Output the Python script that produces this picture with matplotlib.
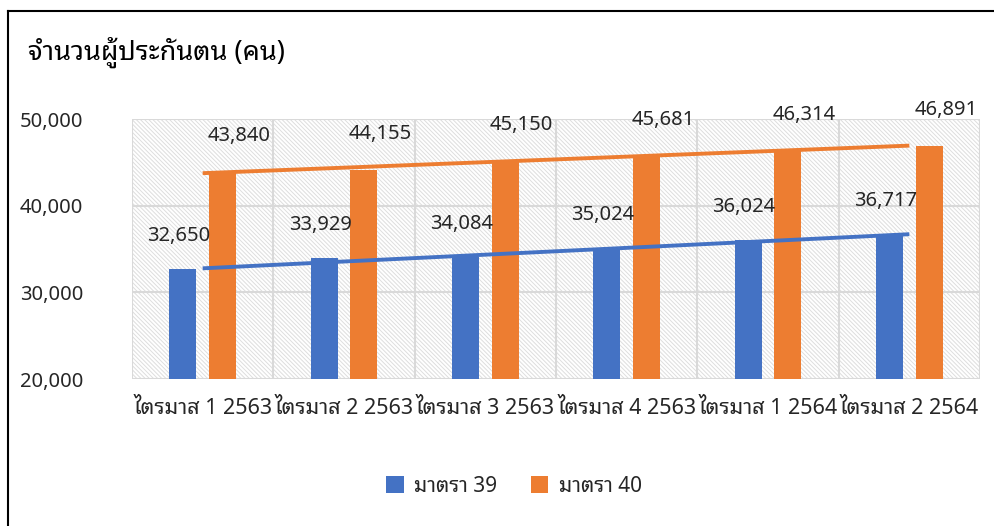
import matplotlib
matplotlib.use("Agg")
import matplotlib.pyplot as plt
from matplotlib import font_manager
from matplotlib.patches import Rectangle
from matplotlib.lines import Line2D
from matplotlib.ticker import FuncFormatter
import numpy as np

quarters = ["ไตรมาส 1 2563", "ไตรมาส 2 2563", "ไตรมาส 3 2563",
            "ไตรมาส 4 2563", "ไตรมาส 1 2564", "ไตรมาส 2 2564"]
sec39 = [32650, 33929, 34084, 35024, 36024, 36717]
sec40 = [43840, 44155, 45150, 45681, 46314, 46891]
series_names = ["มาตรา 39", "มาตรา 40"]

blue = "#4472C4"
orange = "#ED7D31"
grid_gray = "#d9d9d9"
hatch_gray = "#dedede"

# latin text from Noto Sans, thai glyphs fall through to a thai family
installed = {f.name for f in font_manager.fontManager.ttflist}
wanted = ["Noto Sans", "Noto Sans Thai Looped", "Noto Sans Thai", "Sarabun",
          "Anuphan", "DejaVu Sans"]
plt.rcParams["font.family"] = [f for f in wanted if f in installed]
plt.rcParams["hatch.linewidth"] = 0.7

fig = plt.figure(figsize=(9.95, 5.26), dpi=100)
ax = fig.add_axes([132 / 995, 1 - 379 / 526, (980 - 132) / 995, (379 - 119) / 526])

x = np.arange(len(quarters))
w = 0.19
off = 0.14

# hatched plot area
ax.add_patch(Rectangle((0, 0), 1, 1, transform=ax.transAxes, facecolor="white",
                       edgecolor=hatch_gray, linewidth=0, hatch="\\" * 8, zorder=0))

for b in np.arange(-0.5, len(quarters), 1.0):
    ax.axvline(b, color=grid_gray, lw=1.5, zorder=1)
for v in [20000, 30000, 40000, 50000]:
    ax.axhline(v, color=grid_gray, lw=1.5, zorder=1)

ax.bar(x - off, sec39, w, color=blue, zorder=2, label=series_names[0])
ax.bar(x + off, sec40, w, color=orange, zorder=2, label=series_names[1])

# linear trend lines
for vals, c in [(sec39, blue), (sec40, orange)]:
    k, b0 = np.polyfit(x, vals, 1)
    ax.plot(x, k * x + b0, color=c, lw=2.8, zorder=3, solid_capstyle="butt")

for xi, v in zip(x, sec39):
    ax.annotate(f"{v:,}", (xi - off, v), xytext=(-3, 24), textcoords="offset points",
                ha="center", va="center", fontsize=14.5, color="#262626")
for xi, v in zip(x, sec40):
    ax.annotate(f"{v:,}", (xi + off, v), xytext=(12, 26), textcoords="offset points",
                ha="center", va="center", fontsize=14.5, color="#262626")

ax.set_xlim(-0.5, len(quarters) - 0.5)
ax.set_ylim(20000, 50000)
ax.set_yticks([20000, 30000, 40000, 50000])
ax.yaxis.set_major_formatter(FuncFormatter(lambda v, p: f"{int(v):,}"))
ax.set_xticks(x)
ax.set_xticklabels(quarters)
ax.tick_params(axis="y", length=0, pad=35, labelsize=14.5, labelcolor="#262626")
ax.tick_params(axis="x", length=0, pad=14, labelsize=15.5, labelcolor="#262626")
for s in ax.spines.values():
    s.set_visible(False)

fig.text(28 / 995, 1 - 52 / 526, "จำนวนผู้ประกันตน (คน)", fontsize=19.5,
         fontweight="bold", va="center", ha="left", color="black")

fig.legend(loc="center", bbox_to_anchor=(514 / 995, 1 - 486 / 526), ncol=2,
           frameon=False, fontsize=15, handlelength=0.85, handleheight=0.85,
           handletextpad=0.5, columnspacing=1.6, labelcolor="#262626")

# chart frame, left and top edges
fig.add_artist(Line2D([8 / 995, 8 / 995], [0, 1 - 11 / 526], color="black", lw=1.5))
fig.add_artist(Line2D([8 / 995, 1], [1 - 11 / 526, 1 - 11 / 526], color="black", lw=1.5))

fig.savefig("out.png", dpi=100, facecolor="white")
